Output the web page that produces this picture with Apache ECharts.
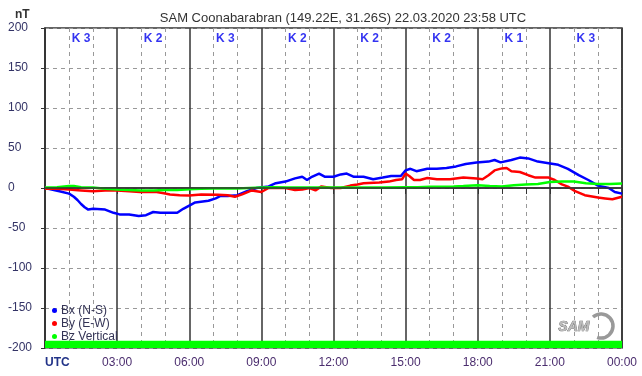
<!DOCTYPE html>
<html>
<head>
<meta charset="utf-8">
<script src="https://cdn.jsdelivr.net/npm/echarts@6/dist/echarts.min.js"></script>
<style>
  html, body { margin: 0; padding: 0; background: #fff; }
  #chart { width: 642px; height: 376px; }
</style>
</head>
<body>
<div id="chart"></div>
<script>
// readings (hours UTC, nT)
var bxHours = [0, 0.6, 1.0, 1.2, 1.35, 1.5, 1.65, 1.8, 2.0, 2.5, 2.85, 3.1, 3.5, 3.9, 4.2, 4.5, 4.8, 5.1, 5.5, 5.75, 6.0, 6.25, 6.8, 7.1, 7.3, 7.6, 8.0, 8.4, 8.8, 9.3, 9.6, 10.0, 10.4, 10.7, 10.9, 11.1, 11.4, 11.65, 12.0, 12.3, 12.55, 12.85, 13.25, 13.65, 14.05, 14.4, 14.8, 15.0, 15.2, 15.45, 15.9, 16.3, 16.7, 17.1, 17.5, 17.95, 18.45, 18.7, 18.95, 19.4, 19.75, 20.1, 20.5, 20.95, 21.35, 21.75, 22.2, 22.6, 23.0, 23.45, 23.7, 24.0];
var bxValues = [0, -4, -7, -11, -15, -20, -24, -27, -26, -27, -31, -33, -33, -35, -34, -30, -31, -31, -31, -26, -22, -18, -16, -13, -10, -10, -9, -4, 0, 2, 6, 8, 12, 14, 10, 14, 18, 14, 14, 17, 18, 14, 14, 11, 13, 15, 15, 22, 24, 21, 24, 24, 25, 27, 30, 32, 33, 35, 32, 35, 38, 37, 33, 31, 29, 24, 16, 10, 3, 0, -5, -7];

var byHours = [0, 0.5, 1.0, 1.5, 2.0, 2.5, 3.0, 3.5, 3.95, 4.3, 4.65, 5.0, 5.2, 5.6, 6.0, 6.5, 7.2, 7.6, 7.9, 8.2, 8.6, 9.0, 9.3, 9.7, 10.0, 10.4, 10.7, 11.0, 11.25, 11.5, 11.9, 12.3, 12.7, 13.0, 13.25, 13.9, 14.3, 14.6, 14.85, 15.0, 15.15, 15.35, 15.6, 15.9, 16.3, 16.85, 17.4, 17.95, 18.2, 18.45, 18.7, 19.0, 19.2, 19.4, 19.75, 20.1, 20.4, 20.95, 21.2, 21.5, 21.75, 22.05, 22.45, 23.0, 23.3, 23.6, 24.0];
var byValues = [-1, -1, -2, -3, -4, -3, -3, -4, -5, -5, -5, -7, -8, -9, -9.5, -8, -8.5, -9, -11, -8, -3, -5, 0, 0, 0, -2.5, -2, 0, -3, 2, 0, 0, 3, 4.5, 6, 7, 8, 10, 11, 18, 15, 10, 10, 12.5, 11, 11, 13, 12, 11, 16, 22, 24.5, 25, 21, 20, 16, 13, 13, 10, 4.6, 1.7, -4, -9, -12, -13, -14, -11];

var bzHours = [0, 0.5, 1.0, 1.2, 1.5, 2.0, 2.5, 3.0, 3.5, 4.0, 4.5, 5.0, 5.5, 6.0, 6.5, 7.0, 7.5, 8.0, 8.5, 9.0, 9.5, 10.0, 11.0, 12.0, 13.0, 14.0, 15.0, 15.5, 16.0, 16.5, 17.0, 17.4, 18.0, 18.5, 19.0, 19.5, 20.0, 20.5, 21.0, 21.5, 22.0, 22.5, 23.0, 23.5, 24.0];
var bzValues = [0.5, 1, 2.5, 2.5, 1, 0.5, -1, -2, -2.5, -3, -3, -2.5, -2.5, -1.5, -1, -0.5, -0.5, -0.5, 0, 0.5, 1, 0.5, 0.5, 0.5, 0.5, 0.5, 1, 1, 1.5, 1.5, 2, 2.5, 3.5, 2.5, 2, 3.5, 4.5, 5, 7.5, 8, 8, 6, 5, 5, 5.5];

var kHours = [1.5, 4.5, 7.5, 10.5, 13.5, 16.5, 19.5, 22.5];
var kIndex = [3, 2, 3, 2, 2, 2, 1, 3];

var seriesNames = ['Bx (N-S)', 'By (E-W)', 'Bz Vertical'];
var seriesColors = ['#0000ff', '#ff0000', '#00ff00'];

function pairs(xs, ys) {
    var out = [];
    for (let i = 0; i < xs.length; i++) out.push([xs[i], ys[i]]);
    return out;
}

var kData = [];
for (let i = 0; i < kHours.length; i++) kData.push({ value: [kHours[i], 187], k: kIndex[i] });

var myChart = echarts.init(document.getElementById('chart'));

var option = {
    animation: false,
    textStyle: { fontFamily: 'Liberation Sans, Arial, sans-serif' },
    title: {
        text: 'SAM Coonabarabran (149.22E, 31.26S) 22.03.2020 23:58 UTC',
        left: 338,
        textAlign: 'center',
        top: 7,
        textStyle: { fontSize: 13, fontWeight: 'normal', color: '#333' }
    },
    legend: {
        data: seriesNames,
        orient: 'vertical',
        left: 47,
        top: 299,
        icon: 'circle',
        itemWidth: 5,
        itemHeight: 5,
        itemGap: 0,
        textStyle: { fontSize: 12, color: '#333355', lineHeight: 13, padding: [0, 0, 0, -1] }
    },
    grid: {
        left: 45, right: 20, top: 28, bottom: 28,
        show: true, borderColor: '#333', borderWidth: 1.5
    },
    xAxis: {
        type: 'value',
        min: 0, max: 24, interval: 3,
        axisLine: { lineStyle: { color: '#333', width: 1.5 } },
        axisTick: { show: true, length: 6, lineStyle: { color: '#333' } },
        minorTick: { show: true, splitNumber: 3, length: 6, lineStyle: { color: '#333' } },
        splitLine: { show: true, lineStyle: { color: '#333', width: 1.5 } },
        minorSplitLine: { show: true, lineStyle: { color: '#999', type: [4, 4] } },
        axisLabel: {
            color: '#4b2d6e', fontSize: 12, margin: 9,
            alignMinLabel: 'left',
            formatter: function(v) {
                if (v === 0) return '{u|UTC}';
                var h = v % 24;
                return (h < 10 ? '0' : '') + h + ':00';
            },
            rich: { u: { fontWeight: 'bold', color: '#223388', fontSize: 12 } }
        }
    },
    yAxis: {
        type: 'value',
        min: -200, max: 200, interval: 50,
        axisLine: { show: true, lineStyle: { color: '#333', width: 1.5 } },
        axisTick: { show: true, length: 4, lineStyle: { color: '#333' } },
        splitLine: { show: true, lineStyle: { color: '#999', type: [4, 4] } },
        axisLabel: { color: '#333366', fontSize: 12, align: 'left', margin: 37 }
    },
    graphic: [
        { type: 'text', left: 15, top: 9, style: { text: 'nT', font: 'bold 12px Liberation Sans, Arial', fill: '#333' } },
        // SAM logo
        { type: 'arc', shape: { cx: 601, cy: 326, r: 12, startAngle: -2.3, endAngle: 1.9 }, style: { stroke: '#999', lineWidth: 3.5, fill: null } },
        { type: 'text', left: 558, top: 320, style: { text: 'SAM', font: 'italic bold 14px Liberation Sans, Arial', fill: '#bbb', stroke: '#666', lineWidth: 0.7 } }
    ],
    series: [
        {
            name: seriesNames[0], type: 'line', data: pairs(bxHours, bxValues),
            showSymbol: false, color: seriesColors[0], lineStyle: { width: 2.5 },
            markLine: {
                silent: true, symbol: 'none', label: { show: false },
                lineStyle: { color: '#333', type: 'solid', width: 1.5 },
                data: [{ yAxis: 0 }]
            }
        },
        {
            name: seriesNames[1], type: 'line', data: pairs(byHours, byValues),
            showSymbol: false, color: seriesColors[1], lineStyle: { width: 2.5 }
        },
        {
            name: seriesNames[2], type: 'line', data: pairs(bzHours, bzValues),
            showSymbol: false, color: seriesColors[2], lineStyle: { width: 2.5 },
            markArea: {
                silent: true,
                itemStyle: { color: '#00ff00', opacity: 1 },
                data: [[{ xAxis: 0, yAxis: -200 }, { xAxis: 24, yAxis: -191 }]]
            }
        },
        {
            name: 'K', type: 'scatter', data: kData, symbolSize: 0, silent: true,
            label: {
                show: true, position: 'inside',
                formatter: function(p) { return 'K ' + p.data.k; },
                color: '#0000ee', fontWeight: 'bold', fontSize: 12
            }
        }
    ]
};

myChart.setOption(option);
</script>
</body>
</html>
